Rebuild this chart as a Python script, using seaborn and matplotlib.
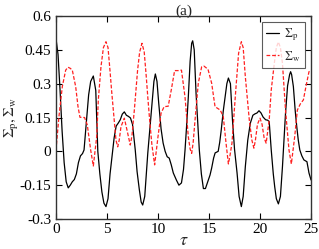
import numpy as np
import pandas as pd
import seaborn as sns
import matplotlib
matplotlib.use('Agg')
import matplotlib.pyplot as plt

# values
tau_p = [0.0, 0.2, 0.4, 0.6, 0.8, 1.0, 1.2, 1.4, 1.6, 1.8, 2.0, 2.2, 2.4, 2.6, 2.75,
         3.0, 3.2, 3.4, 3.66, 3.9, 4.1, 4.3, 4.5, 4.7, 4.9, 5.1, 5.3, 5.5, 5.7, 5.9,
         6.1, 6.3, 6.5, 6.7, 6.9, 7.1, 7.3, 7.5, 7.77, 7.95, 8.17, 8.35, 8.5, 8.7,
         9.0, 9.2, 9.41, 9.6, 9.74, 9.9, 10.07, 10.3, 10.5, 10.7, 10.9, 11.1, 11.3,
         11.5, 11.8, 12.05, 12.3, 12.5, 12.65, 12.8, 12.97, 13.15, 13.3, 13.4, 13.55,
         13.73, 13.9, 14.05, 14.25, 14.45, 14.65, 14.94, 15.1, 15.26, 15.45, 15.6,
         15.9, 16.05, 16.2, 16.4, 16.57, 16.75, 16.9, 17.1, 17.3, 17.5, 17.75, 17.95,
         18.17, 18.35, 18.56, 18.8, 19.05, 19.3, 19.5, 19.7, 19.9, 20.1, 20.3, 20.55,
         20.75, 20.9, 21.1, 21.3, 21.44, 21.6, 21.8, 22.0, 22.2, 22.35, 22.5, 22.7,
         22.9, 23.0, 23.1, 23.27, 23.45, 23.6, 23.75, 23.9, 24.1, 24.3, 24.6, 24.8, 25.0]
sigma_p = [0.50, 0.43, 0.27, 0.09, -0.05, -0.135, -0.162, -0.15, -0.135, -0.125, -0.10,
           -0.05, -0.02, -0.01, 0.006, 0.14, 0.25, 0.31, 0.334, 0.27, 0.0, -0.10, -0.18,
           -0.23, -0.245, -0.21, -0.10, -0.02, 0.06, 0.112, 0.125, 0.14, 0.165, 0.175,
           0.16, 0.155, 0.148, 0.12, 0.006, -0.09, -0.17, -0.225, -0.238, -0.20, -0.007,
           0.10, 0.214, 0.31, 0.343, 0.31, 0.214, 0.10, 0.037, 0.0, -0.024, -0.03, -0.06,
           -0.096, -0.127, -0.15, -0.14, -0.08, 0.006, 0.11, 0.24, 0.40, 0.479, 0.49,
           0.45, 0.257, 0.12, 0.006, -0.10, -0.165, -0.165, -0.127, -0.105, -0.074,
           -0.03, -0.007, 0.0, 0.04, 0.095, 0.18, 0.24, 0.30, 0.325, 0.30, 0.139, 0.01,
           -0.096, -0.20, -0.245, -0.20, -0.068, 0.05, 0.125, 0.16, 0.166, 0.17, 0.18,
           0.17, 0.152, 0.14, 0.138, 0.132, 0.006, -0.10, -0.157, -0.21, -0.233, -0.20,
           -0.068, 0.05, 0.169, 0.29, 0.34, 0.353, 0.34, 0.287, 0.18, 0.11, 0.05, 0.006,
           -0.02, -0.038, -0.046, -0.096, -0.127]

tau_w = [0.0, 0.29, 0.62, 0.95, 1.18, 1.4, 1.6, 1.93, 2.16, 2.35, 2.6, 2.8, 3.07, 3.4,
         3.66, 3.99, 4.15, 4.41, 4.65, 4.9, 5.1, 5.29, 5.45, 5.62, 5.88, 6.05, 6.2,
         6.37, 6.7, 7.03, 7.28, 7.45, 7.68, 8.0, 8.2, 8.43, 8.65, 8.85, 9.0, 9.18, 9.4,
         9.67, 10.0, 10.3, 10.6, 11.0, 11.3, 11.63, 12.0, 12.3, 12.65, 12.97, 13.15,
         13.3, 13.45, 13.63, 13.95, 14.28, 14.5, 14.9, 15.26, 15.59, 16.1, 16.4, 16.67,
         16.9, 17.05, 17.25, 17.6, 17.9, 18.17, 18.35, 18.56, 18.95, 19.2, 19.4, 19.55,
         19.75, 20.0, 20.2, 20.4, 20.6, 20.9, 21.1, 21.4, 21.6, 21.8, 22.0, 22.2, 22.5,
         22.84, 23.07, 23.4, 23.66, 23.95, 24.25, 24.5, 24.8, 25.0]
sigma_w = [0.006, 0.154, 0.287, 0.36, 0.373, 0.368, 0.36, 0.287, 0.198, 0.151, 0.15,
           0.15, 0.117, 0.006, -0.065, 0.065, 0.228, 0.375, 0.46, 0.486, 0.46, 0.36,
           0.27, 0.183, 0.05, 0.02, 0.05, 0.109, 0.147, 0.08, 0.028, 0.07, 0.183, 0.36,
           0.44, 0.479, 0.44, 0.331, 0.24, 0.139, 0.03, -0.06, 0.065, 0.169, 0.198, 0.2,
           0.272, 0.358, 0.358, 0.36, 0.24, 0.065, 0.01, -0.009, 0.04, 0.139, 0.302,
           0.375, 0.378, 0.364, 0.302, 0.198, 0.183, 0.154, 0.036, -0.056, -0.02, 0.036,
           0.257, 0.435, 0.486, 0.46, 0.331, 0.139, 0.05, 0.014, 0.05, 0.12, 0.147, 0.12,
           0.06, 0.036, 0.139, 0.272, 0.39, 0.46, 0.485, 0.46, 0.39, 0.183, 0.006,
           -0.056, 0.065, 0.183, 0.21, 0.228, 0.287, 0.353, 0.36]

xticks = [0, 5, 10, 15, 20, 25]
yticks = [-0.3, -0.15, 0, 0.15, 0.3, 0.45, 0.6]
ytick_labels = ['-0.3', '-0.15', '0', '0.15', '0.3', '0.45', '0.6']

sns.set_style('ticks')
plt.rcParams['font.family'] = ['Liberation Serif', 'DejaVu Serif']
plt.rcParams['mathtext.fontset'] = 'stix'

df_p = pd.DataFrame({'tau': tau_p, 'val': sigma_p})
df_w = pd.DataFrame({'tau': tau_w, 'val': sigma_w})

fig = plt.figure(figsize=(3.19, 2.49), dpi=100)
ax = fig.add_axes([0.1755, 0.1205, 0.7995, 0.8152])

sns.lineplot(ax=ax, data=df_p, x='tau', y='val', color='black', lw=0.9,
             label=r'$\Sigma_\mathrm{p}$')
sns.lineplot(ax=ax, data=df_w, x='tau', y='val', color='#ff2020', lw=0.9,
             dashes=False, label=r'$\Sigma_\mathrm{w}$')
ax.lines[1].set_linestyle((0, (3, 1.5)))

ax.set_xlim(0, 25)
ax.set_ylim(-0.3, 0.6)
ax.set_xticks(xticks)
ax.set_yticks(yticks)
ax.set_yticklabels(ytick_labels)
ax.tick_params(direction='in', length=4, width=0.8, labelsize=11,
               top=True, right=True, colors='black')
ax.tick_params(axis='x', pad=3)
for s in ax.spines.values():
    s.set_color('#333333')
    s.set_linewidth(1.0)

ax.set_xlabel(r'$\tau$', fontsize=13, labelpad=-3)
ax.set_ylabel(r'$\Sigma_\mathrm{p},\Sigma_\mathrm{w}$', fontsize=11, labelpad=-1)
ax.set_title('(a)', fontsize=11, pad=1)

leg = ax.legend(loc='upper right', bbox_to_anchor=(0.976, 0.97), fontsize=9,
                frameon=True, fancybox=False, edgecolor='#333333',
                handlelength=1.0, handletextpad=0.45, borderpad=0.35,
                labelspacing=0.45, borderaxespad=0.0)
leg.get_frame().set_linewidth(0.8)

plt.savefig('out.png', dpi=100)
